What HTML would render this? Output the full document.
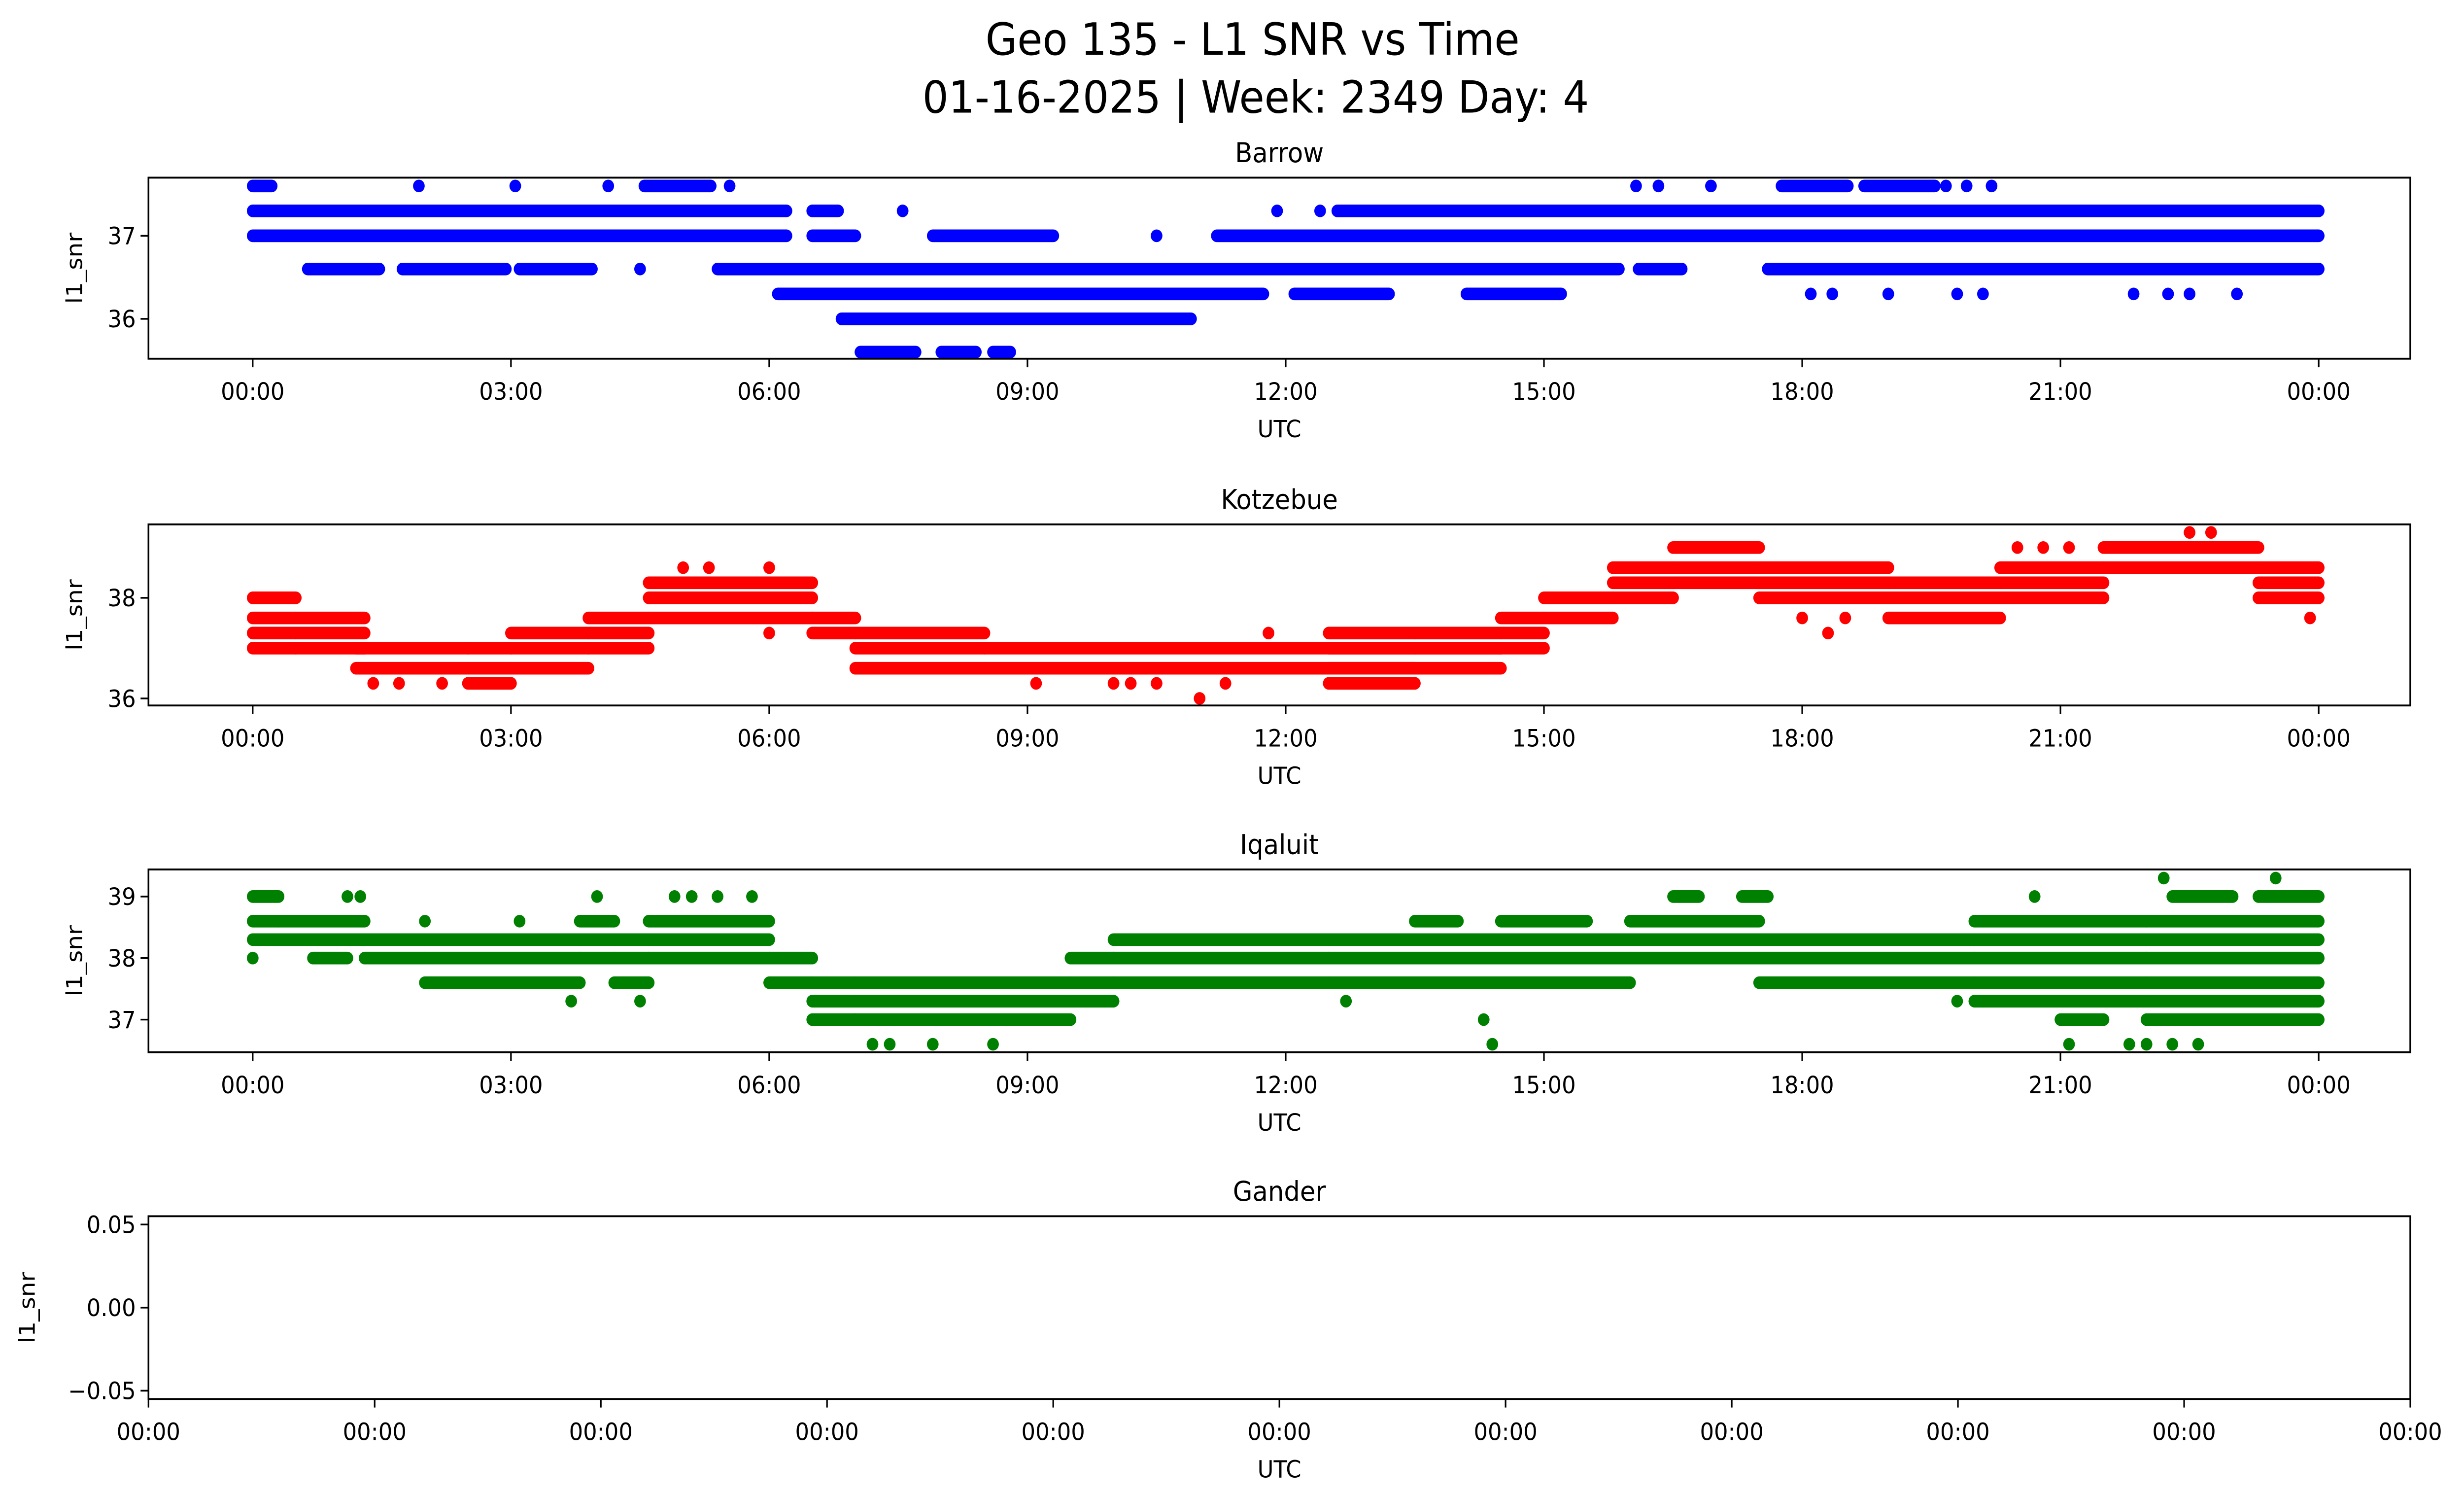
<!DOCTYPE html>
<html><head><meta charset="utf-8"><style>
html,body{margin:0;padding:0;background:#fff;width:100%;height:100%;overflow:hidden;}
svg{position:fixed;left:0;top:0;width:100vw;height:100vh;display:block;font-family:"DejaVu Sans","Liberation Sans",sans-serif;}
</style></head><body>
<svg id="fig" viewBox="0 0 1560 875.2" preserveAspectRatio="none" xmlns="http://www.w3.org/2000/svg">
<rect width="1560" height="876" fill="#fff"/>
<text x="793" y="32" font-size="26" text-anchor="middle">Geo 135 - L1 SNR vs Time</text>
<text x="795" y="66" font-size="26" text-anchor="middle">01-16-2025 | Week: 2349 Day: 4</text>
<g id="plots"></g>
</svg>
<script>
const LEVELS=[35.6,36.0,36.3,36.6,37.0,37.3,37.6,38.0,38.3,38.6,39.0,39.3];
// bands: [startHour,endHour,lowSNR,highSNR]
const barrowBands=[[0,6.2,37.0,37.3],[6.5,6.8,37.3,37.3],[6.5,7.0,37.0,37.0],[7.9,9.3,37.0,37.0],[11.2,24,37.0,37.0],[12.6,24,37.3,37.3],
 [0.64,1.47,36.6,36.6],[1.74,2.94,36.6,36.6],[3.1,3.94,36.6,36.6],[5.4,15.87,36.6,36.6],[16.1,16.6,36.6,36.6],[17.6,24,36.6,36.6],
 [6.1,11.74,36.3,36.3],[12.1,13.2,36.3,36.3],[14.1,15.2,36.3,36.3],[6.84,10.9,36.0,36.0],[7.06,7.7,35.6,35.6],[8.0,8.4,35.6,35.6],[8.6,8.8,35.6,35.6],
 [0,0.22,37.6,37.6],[4.55,5.32,37.6,37.6],[17.76,18.53,37.6,37.6],[18.72,19.54,37.6,37.6]];
const barrowDots=[[1.93,37.6],[3.05,37.6],[4.13,37.6],[5.54,37.6],[16.07,37.6],[16.33,37.6],[16.94,37.6],[19.67,37.6],[19.91,37.6],[20.2,37.6],[4.5,36.6],[18.1,36.3],[18.35,36.3],[19.0,36.3],[19.8,36.3],[20.1,36.3],[21.85,36.3],[22.25,36.3],[22.5,36.3],[23.05,36.3],[7.55,37.3],[10.5,37.0],[11.9,37.3],[12.4,37.3]];
const kotzBands=[[0,0.5,37.0,38.0],[0.5,1.3,37.0,37.6],[1.2,2.5,36.6,37.0],[2.5,3.0,36.3,37.0],[3.0,3.9,36.6,37.3],[3.9,4.6,37.0,37.6],[4.6,6.5,37.6,38.3],
 [6.5,7.0,37.3,37.6],[7.0,8.5,36.6,37.3],[8.5,14.5,36.6,37.0],[12.5,13.5,36.3,37.3],[13.5,14.5,37.0,37.3],[14.5,15.0,37.0,37.6],[15.0,15.8,37.6,38.0],[15.8,16.5,38.0,38.6],
 [16.5,17.5,38.3,39.0],[17.5,19.0,38.0,38.6],[19.0,20.3,37.6,38.3],[20.3,21.5,38.0,38.6],[21.5,23.3,38.6,39.0],[23.3,24,38.0,38.6]];
const kotzDots=[[1.4,36.3],[1.7,36.3],[2.2,36.3],[5.0,38.6],[5.3,38.6],[6.0,38.6],[6.0,37.3],[9.1,36.3],[10.2,36.3],[10.5,36.3],[11.0,36.0],[11.3,36.3],[20.5,39.0],[20.8,39.0],[21.1,39.0],[22.5,39.3],[22.75,39.3],[23.9,37.6],[18.3,37.3],[18.0,37.6],[18.5,37.6],[19.0,38.6],[10.0,36.3],[11.8,37.3],[16.4,38.3]];
const iqalBands=[[0,0.3,38.3,39.0],[0.3,1.3,38.3,38.6],[0.7,1.1,38.0,38.0],[1.3,2.0,38.0,38.3],[2.0,3.8,37.6,38.3],[3.8,4.2,38.0,38.6],[4.2,4.6,37.6,38.3],[4.6,6.0,38.0,38.6],
 [6.0,6.5,37.6,38.0],[6.5,7.0,37.0,37.6],[7.0,9.5,37.0,37.6],[9.5,10.0,37.3,38.0],[10.0,12.5,37.6,38.3],[12.5,16.0,37.6,38.3],[13.5,14.0,38.6,38.6],[14.5,15.5,38.6,38.6],
 [16.0,17.5,38.0,38.6],[17.5,20.0,37.6,38.3],[20.0,22.0,37.3,38.6],[21.0,21.5,37.0,37.0],[22.0,24.0,37.0,38.6],[22.3,23.0,39.0,39.0],[23.3,24,39.0,39.0],[16.5,16.8,39.0,39.0],[17.3,17.6,39.0,39.0]];
const iqalDots=[[0,38.0],[1.1,39.0],[1.25,39.0],[2.0,38.6],[3.1,38.6],[3.7,37.3],[4.0,39.0],[4.5,37.3],[4.9,39.0],[5.1,39.0],[5.4,39.0],[5.8,39.0],[7.2,36.6],[7.4,36.6],[7.9,36.6],[8.6,36.6],[14.4,36.6],[14.3,37.0],[20.7,39.0],[21.1,36.6],[21.8,36.6],[22.0,36.6],[22.3,36.6],[22.6,36.6],[22.2,39.3],[23.5,39.3],[23.9,37.3],[12.7,37.3],[19.8,37.3]];

const xTicks=["00:00","03:00","06:00","09:00","12:00","15:00","18:00","21:00","00:00"];
const panels=[
 {name:"barrow",title:"Barrow",top:104,bot:210,ymin:35.52,ymax:37.7,yticks:[36,37],color:"#0000ff",bands:barrowBands,dots:barrowDots},
 {name:"kotzebue",title:"Kotzebue",top:307,bot:413,ymin:35.86,ymax:39.46,yticks:[36,38],color:"#ff0000",bands:kotzBands,dots:kotzDots},
 {name:"iqaluit",title:"Iqaluit",top:509,bot:616,ymin:36.47,ymax:39.44,yticks:[37,38,39],color:"#008000",bands:iqalBands,dots:iqalDots}
];
const NS="http://www.w3.org/2000/svg";
const g=document.getElementById('plots');
const X0=94,X1=1526,H0=160,HPX=1308/24;
function xs(h){return H0+h*HPX;}
function mk(tag,attrs,parent,text){const e=document.createElementNS(NS,tag);for(const k in attrs)e.setAttribute(k,attrs[k]);if(text!==undefined)e.textContent=text;(parent||g).appendChild(e);return e;}
function drawFrame(p,ticksX,labelsX,yt,ys,ylabFmt,ylx){
 const t=mk('text',{x:810,y:p.top-9,'font-size':16,'text-anchor':'middle'},g,p.title);
 
 
 ticksX.forEach((x,i)=>{
  mk('line',{x1:x,x2:x,y1:p.bot,y2:p.bot+5,stroke:'#000','stroke-width':1});
  const l=mk('text',{x:x,y:p.bot+24,'font-size':14,'text-anchor':'middle'},g,labelsX[i]);
  
  
 });
 yt.forEach(v=>{
  const y=ys(v);
  mk('line',{x1:X0-5,x2:X0,y1:y,y2:y,stroke:'#000','stroke-width':1});
  const l=mk('text',{x:X0-8,y:y+5,'font-size':14,'text-anchor':'end'},g,ylabFmt(v));
  
  
 });
 const xl=mk('text',{x:810,y:p.bot+46,'font-size':14,'text-anchor':'middle'},g,'UTC');
 
 
 const cy=(p.top+p.bot)/2;
 const yl=mk('text',{x:ylx,y:cy,'font-size':14,'text-anchor':'middle',transform:'rotate(-90 '+ylx+' '+cy+')'},g,'l1_snr');
 
 
}
panels.forEach(p=>{
 const ys=v=>p.bot-(v-p.ymin)/(p.ymax-p.ymin)*(p.bot-p.top);
 const mg=mk('g',{});
 
 
 p.bands.forEach(b=>{
  LEVELS.forEach(L=>{
   if(L>=b[2]-0.01&&L<=b[3]+0.01){
    const ln=mk('line',{x1:xs(b[0]),x2:xs(b[1]),y1:ys(L),y2:ys(L),stroke:p.color,'stroke-width':7.4,'stroke-linecap':'round'},mg);
    
    
   }
  });
 });
 p.dots.forEach(d=>{
  const c=mk('circle',{cx:xs(d[0]),cy:ys(d[1]),r:3.7,fill:p.color},mg);
  
  
 });
 const fr=mk('rect',{x:X0,y:p.top,width:X1-X0,height:p.bot-p.top,fill:'none',stroke:'#000','stroke-width':1.1});
 
 
 drawFrame(p,xTicks.map((_,i)=>xs(i*3)),xTicks,p.yticks,ys,v=>String(v),52);
});
// Gander empty panel
const gp={name:"gander",title:"Gander",top:712,bot:819};
const gys=v=>gp.bot-(v+0.055)/0.11*(gp.bot-gp.top);
const gfr=mk('rect',{x:X0,y:gp.top,width:X1-X0,height:gp.bot-gp.top,fill:'none',stroke:'#000','stroke-width':1.1});


const gxt=[];const gxl=[];for(let i=0;i<11;i++){gxt.push(X0+i*(X1-X0)/10);gxl.push("00:00");}
drawFrame(gp,gxt,gxl,[0.05,0,-0.05],gys,v=>v.toFixed(2).replace('-','\u2212'),22);
</script>
</body></html>
